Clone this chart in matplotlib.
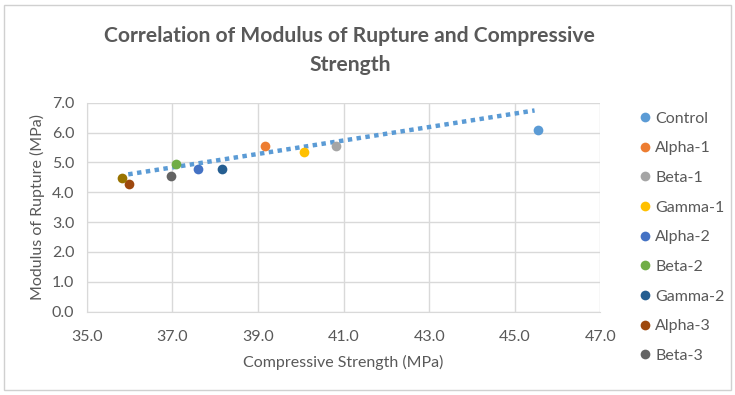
import matplotlib
matplotlib.use("Agg")
import matplotlib.pyplot as plt
from matplotlib.lines import Line2D
from matplotlib.patches import Rectangle

plt.rcParams["font.family"] = ["Lato", "DejaVu Sans"]

# values
mix_names = ["Control", "Alpha-1", "Beta-1", "Gamma-1", "Alpha-2",
             "Beta-2", "Gamma-2", "Alpha-3", "Beta-3", "Gamma-3"]
compressive_mpa = [45.55, 39.17, 40.82, 40.08, 37.60, 37.08, 38.15, 35.98, 36.97, 35.82]
rupture_mpa = [6.08, 5.56, 5.55, 5.36, 4.78, 4.96, 4.79, 4.27, 4.55, 4.47]
mix_colors = ["#5B9BD5", "#ED7D31", "#A5A5A5", "#FFC000", "#4472C4",
              "#70AD47", "#255E91", "#9E480E", "#636363", "#997300"]
legend_count = 9  # Gamma-3 does not fit in the legend box

trend_x = [35.97, 45.46]
trend_y = [4.60, 6.74]

x_ticks = [35.0, 37.0, 39.0, 41.0, 43.0, 45.0, 47.0]
y_ticks = [0.0, 1.0, 2.0, 3.0, 4.0, 5.0, 6.0, 7.0]

text_color = "#595959"
grid_color = "#D9D9D9"

fig = plt.figure(figsize=(7.35, 3.95), dpi=100)
fig.patches.append(Rectangle((0.006, 0.012), 0.988, 0.975, transform=fig.transFigure,
                             fill=False, edgecolor="#D0D0D0", linewidth=1.0))

ax = fig.add_axes([0.118, 0.211, 0.699, 0.529])

for x, y, color in zip(compressive_mpa, rupture_mpa, mix_colors):
    ax.plot([x], [y], "o", color=color, markersize=7, markeredgewidth=0, zorder=3)

ax.plot(trend_x, trend_y, color="#5B9BD5", linewidth=3.2, dashes=(1, 1),
        dash_capstyle="butt", zorder=2)

ax.set_xlim(x_ticks[0], x_ticks[-1])
ax.set_ylim(y_ticks[0], y_ticks[-1])
ax.set_xticks(x_ticks)
ax.set_yticks(y_ticks)
ax.set_xticklabels([f"{v:.1f}" for v in x_ticks])
ax.set_yticklabels([f"{v:.1f}" for v in y_ticks])
ax.tick_params(length=0, labelsize=11.5, colors=text_color)
ax.tick_params(axis="x", pad=13)
ax.tick_params(axis="y", pad=9)
ax.grid(True, color=grid_color, linewidth=1)
ax.set_axisbelow(True)
for side in ["top", "right"]:
    ax.spines[side].set_visible(False)
for side in ["left", "bottom"]:
    ax.spines[side].set_color(grid_color)

ax.set_xlabel("Compressive Strength (MPa)", fontsize=11.5, color=text_color, labelpad=8)
ax.set_ylabel("Modulus of Rupture (MPa)", fontsize=11.5, color=text_color, labelpad=5)

fig.text(0.476, 0.873, "Correlation of Modulus of Rupture and Compressive\nStrength",
         ha="center", va="center", fontsize=15.2, fontweight="bold", color=text_color,
         linespacing=1.55)

handles = [Line2D([], [], marker="o", linestyle="none", color=c, markersize=7,
                  markeredgewidth=0) for c in mix_colors[:legend_count]]
fig.legend(handles, mix_names[:legend_count], loc="upper left",
           bbox_to_anchor=(0.863, 0.734), frameon=False, fontsize=11.5,
           labelcolor=text_color, handlelength=0.6, handletextpad=0.3,
           labelspacing=0.97, borderaxespad=0)

fig.savefig("out.png", dpi=100)
